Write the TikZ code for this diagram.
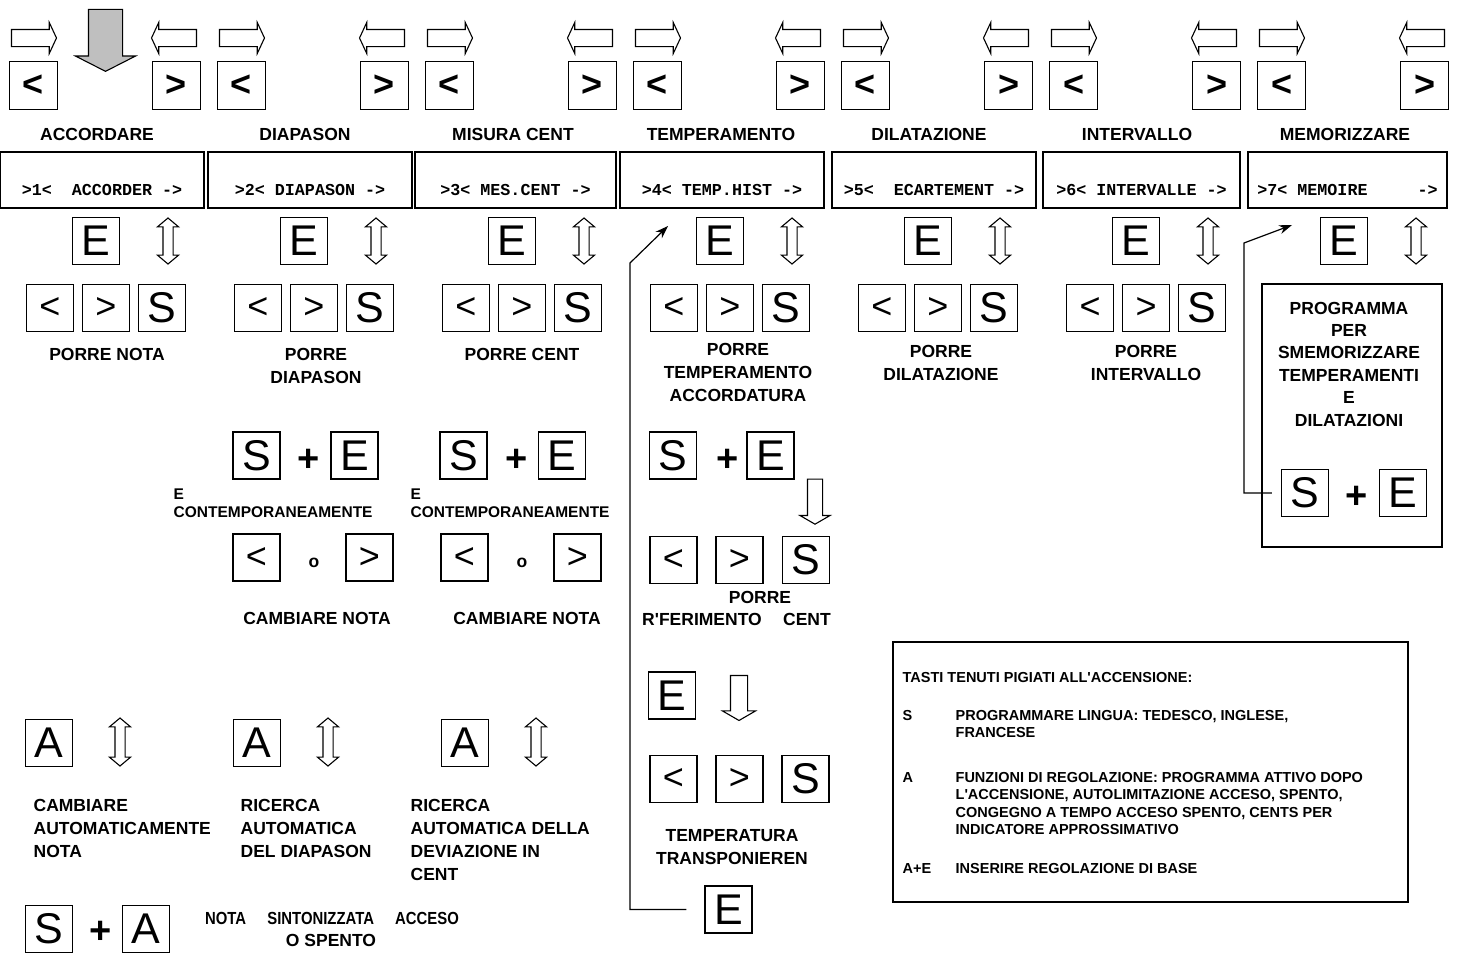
\documentclass[tikz,border=0pt]{standalone}
\usepackage{fontspec}
\setmainfont{Liberation Sans}
\setmonofont{Liberation Mono}
\usetikzlibrary{positioning, shapes.arrows, arrows.meta}

\begin{document}
\begin{tikzpicture}[x=1pt, y=-1pt, line width=1.3pt,
    key/.style={draw, rectangle, minimum width=47pt, minimum height=47pt, inner sep=0pt, font=\fontsize{43}{43}\selectfont},
    ltkey/.style={key, font=\fontsize{36}{36}\selectfont},
    arrkey/.style={key, minimum width=48pt, minimum height=48pt, font=\fontsize{36}{36}\selectfont\bfseries},
    lbl/.style={inner sep=0pt, align=center, font=\fontsize{17.5}{23}\selectfont\bfseries},
    note/.style={inner sep=0pt, align=left, anchor=north west, font=\fontsize{15.5}{18}\selectfont\bfseries},
    info/.style={inner sep=0pt, align=left, anchor=north west, font=\fontsize{14.5}{17.4}\selectfont\bfseries},
    plus/.style={inner sep=0pt, font=\fontsize{38}{38}\selectfont\bfseries},
    disp/.style={draw, rectangle, minimum height=56pt, inner sep=0pt, text height=43pt, text depth=13pt, font=\fontsize{16.7}{20}\selectfont\ttfamily\bfseries},
    rarrow/.style={single arrow, draw, line width=1.1pt, inner sep=8pt, minimum height=45pt, single arrow head extend=7pt, single arrow tip angle=130},
    larrow/.style={rarrow, shape border rotate=180},
    dnarrow/.style={rarrow, shape border rotate=270, single arrow tip angle=120},
    updown/.style={double arrow, draw, line width=1.1pt, inner sep=4.5pt, minimum height=46pt, double arrow head extend=5.5pt, double arrow tip angle=100, shape border rotate=90},
    link/.style={line width=1.2pt, -{Stealth[length=13pt, width=9pt]}}]
  \path[use as bounding box, fill=white] (0,0) rectangle (1459,953);

  % top row: arrows, keys, titles, E keys
  \foreach \k/\ttl in {0/ACCORDARE, 1/DIAPASON, 2/MISURA CENT, 3/TEMPERAMENTO, 4/DILATAZIONE, 5/INTERVALLO, 6/MEMORIZZARE}{
    \node[rarrow] (ra\k) at (32+208*\k, 38) {};
    \node[larrow] (la\k) at (176+208*\k, 38) {};
    \node[arrkey] (lk\k) at (33.5+208*\k, 85.5) {<};
    \node[arrkey] (rk\k) at (176.5+208*\k, 85.5) {>};
    \node[lbl] (title\k) at (97+208*\k, 134) {\ttl};
    \node[key] (e\k) at (96+208*\k, 241) {E};
    \node[updown] (ud\k) at (168+208*\k, 241) {};
  }
  \node[single arrow, draw, fill=gray!50, line width=1.1pt, inner sep=16.5pt, minimum height=62pt,
        single arrow head extend=13pt, single arrow tip angle=126, shape border rotate=270] (here) at (105.5, 36) {};

  % displays
  \foreach \k/\cx/\w/\txt in {1/102/204/{>1<~~ACCORDER~->}, 2/310/204/{>2<~DIAPASON~->},
      3/515.5/201/{>3<~MES.CENT~->}, 4/722/204/{>4<~TEMP.HIST~->}, 5/934/204/{>5<~~ECARTEMENT~->},
      6/1141.5/197/{>6<~INTERVALLE~->}, 7/1347.5/199/{>7<~MEMOIRE~~~~~->}}
    \node[disp, minimum width=\w pt] (disp\k) at (\cx, 180) {\txt};

  % < > S rows
  \foreach \k in {0,...,5}{
    \node[ltkey] (pl\k) at (50+208*\k, 308) {<};
    \node[ltkey] (pr\k) at (106+208*\k, 308) {>};
    \node[key] (ps\k) at (162+208*\k, 308) {S};
  }
  \node[lbl] (porre1) at (107, 354) {PORRE NOTA};
  \node[lbl] (porre2) at (316, 366) {PORRE\\DIAPASON};
  \node[lbl] (porre3) at (522, 354) {PORRE CENT};
  \node[lbl] (porre4) at (738, 372) {PORRE\\TEMPERAMENTO\\ACCORDATURA};
  \node[lbl] (porre5) at (941, 363) {PORRE\\DILATAZIONE};
  \node[lbl] (porre6) at (1146, 363) {PORRE\\INTERVALLO};

  % diapason and cent
  \node[key] (s2) at (256.5, 455.5) {S};
  \node[plus] (plus2) at (309, 460) {+};
  \node[key] (e2) at (354.5, 455.5) {E};
  \node[note] (cont2) at (173, 488.5) {E\\CONTEMPORANEAMENTE};
  \node[ltkey] (cl2) at (256.5, 557.5) {<};
  \node[lbl] (or2) at (314, 563) {o};
  \node[ltkey] (cr2) at (369.5, 557.5) {>};
  \node[lbl] (camb2) at (317, 618) {CAMBIARE NOTA};

  \node[key] (s3) at (463.5, 455.5) {S};
  \node[plus] (plus3) at (517, 460) {+};
  \node[key] (e3) at (562, 455.5) {E};
  \node[note] (cont3) at (410, 488.5) {E\\CONTEMPORANEAMENTE};
  \node[ltkey] (cl3) at (464.5, 557.5) {<};
  \node[lbl] (or3) at (522, 563) {o};
  \node[ltkey] (cr3) at (577.5, 557.5) {>};
  \node[lbl] (camb3) at (527, 618) {CAMBIARE NOTA};

  % temperamento
  \node[key] (s4) at (673, 455.5) {S};
  \node[plus] (plus4) at (728, 460) {+};
  \node[key] (e4) at (770.5, 455.5) {E};
  \node[dnarrow, inner sep=7pt, single arrow head extend=7.5pt] (dn4) at (815, 499.5) {};
  \node[ltkey] (rl4) at (673.5, 560) {<};
  \node[ltkey] (rr4) at (739.5, 560) {>};
  \node[key] (rs4) at (806, 560) {S};
  \node[lbl] (porre7) at (760, 597) {PORRE};
  \node[lbl] (rif4) at (702, 619) {R\textquotesingle FERIMENTO};
  \node[lbl] (cent4) at (807, 619) {CENT};
  \node[key] (e5) at (672, 695.5) {E};
  \node[dnarrow, single arrow head extend=8pt] (dn5) at (739, 695.5) {};
  \node[ltkey] (tl4) at (673.5, 779) {<};
  \node[ltkey] (tr4) at (739.5, 779) {>};
  \node[key] (ts4) at (805.5, 779) {S};
  \node[lbl] (transp) at (732, 847.5) {TEMPERATURA\\TRANSPONIEREN};
  \node[key] (eback) at (728.5, 909.5) {E};
  \coordinate (bend4) at (630, 263);
  \coordinate (tip4) at (668, 226);
  \draw[link] ([xshift=-18pt]eback.west) -| (bend4) -- (tip4);

  % memorizzare
  \node[draw, rectangle, minimum width=180pt, minimum height=263pt] (progbox) at (1352, 415.5) {};
  \node[lbl, font=\fontsize{17.5}{22.4}\selectfont\bfseries] (progtxt) at (1349, 364)
    {PROGRAMMA\\PER\\SMEMORIZZARE\\TEMPERAMENTI\\E\\DILATAZIONI};
  \node[key] (sprog) at (1305, 493) {S};
  \node[plus] (plus7) at (1357, 497) {+};
  \node[key] (eprog) at (1403, 493) {E};
  \coordinate (bend7) at (1244, 243);
  \coordinate (tip7) at (1292, 225);
  \draw[link] ([xshift=-9pt]sprog.west) -| (bend7) -- (tip7);

  % A keys
  \node[key] (a1) at (49, 743) {A};
  \node[updown, minimum height=48pt] (uda1) at (120, 742) {};
  \node[key] (a2) at (257, 743) {A};
  \node[updown, minimum height=48pt] (uda2) at (328, 742) {};
  \node[key] (a3) at (465, 743) {A};
  \node[updown, minimum height=48pt] (uda3) at (536, 742) {};
  \node[lbl, align=left, anchor=north west] (auto1) at (33, 798.7) {CAMBIARE\\AUTOMATICAMENTE\\NOTA};
  \node[lbl, align=left, anchor=north west] (auto2) at (240, 798.7) {RICERCA\\AUTOMATICA\\DEL DIAPASON};
  \node[lbl, align=left, anchor=north west] (auto3) at (410, 798.7) {RICERCA\\AUTOMATICA DELLA\\DEVIAZIONE IN\\CENT};

  \node[key] (sa) at (49, 929) {S};
  \node[plus] (plusa) at (101, 932) {+};
  \node[key] (aa) at (146, 929) {A};
  \node[lbl] (stat1) at (332, 918) {\scalebox{0.85}[1]{NOTA\hspace{25pt}SINTONIZZATA\hspace{25pt}ACCESO}};
  \node[lbl] (stat2) at (331, 940) {O SPENTO};

  % power-on keys
  \node[draw, rectangle, minimum width=515pt, minimum height=260pt] (infobox) at (1150.5, 772) {};
  \node[info] (infohead) at (902, 671.8) {TASTI TENUTI PIGIATI ALL\textquotesingle ACCENSIONE:};
  \node[info] (ks) at (902, 709.8) {S};
  \node[info] (ksx) at (955, 709.8) {PROGRAMMARE LINGUA: TEDESCO, INGLESE,\\FRANCESE};
  \node[info] (ka) at (902, 771.8) {A};
  \node[info] (kax) at (955, 771.8) {FUNZIONI DI REGOLAZIONE: PROGRAMMA ATTIVO DOPO\\L\textquotesingle ACCENSIONE, AUTOLIMITAZIONE ACCESO, SPENTO,\\CONGEGNO A TEMPO ACCESO SPENTO, CENTS PER\\INDICATORE APPROSSIMATIVO};
  \node[info] (kae) at (902, 862.8) {A+E};
  \node[info] (kaex) at (955, 862.8) {INSERIRE REGOLAZIONE DI BASE};
\end{tikzpicture}
\end{document}
